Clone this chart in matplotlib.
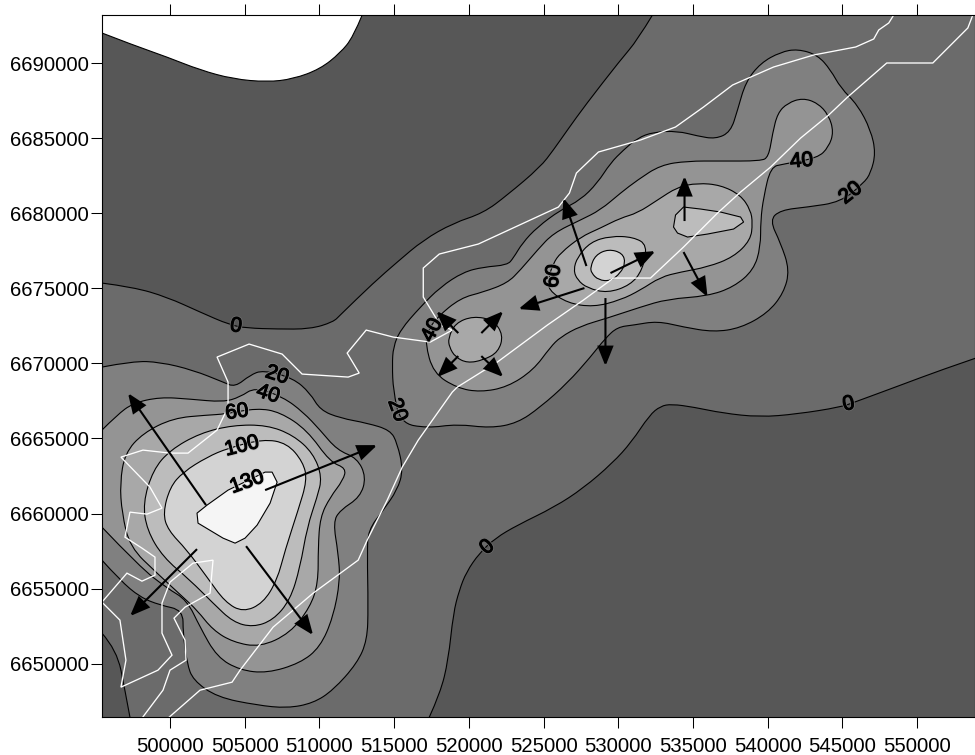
import matplotlib
matplotlib.use("Agg")
import matplotlib.pyplot as plt
from matplotlib.path import Path
from matplotlib.patches import PathPatch
import matplotlib.patheffects as pe

plt.rcParams['font.family'] = ['Liberation Sans', 'DejaVu Sans']

XMIN, XMAX = 495449, 553879
YMIN, YMAX = 6646456, 6693196
xticks = [500000, 505000, 510000, 515000, 520000, 525000, 530000, 535000, 540000, 545000, 550000]
yticks = [6650000, 6655000, 6660000, 6665000, 6670000, 6675000, 6680000, 6685000, 6690000]

# --- level colours
c_below0 = '#575757'
c_0 = '#6b6b6b'
c_20 = '#808080'
c_40 = '#949494'
c_60 = '#a8a8a8'
c_80 = '#bcbcbc'
c_100 = '#d3d3d3'
c_130 = '#f5f5f5'

# --- outside-the-grid hole (top left)
hole_x = [495444,497521,499799,502010,504221,506499,508241,510050,511390,512261,512864]
hole_y = [6691998,6691199,6690400,6689534,6688935,6688735,6688935,6689601,6690666,6691732,6693197]

# --- level 0
c0_nw_x = [495444,497521,499799,502010,504020,505159,507169,509380,510921,511390,513601,515209,516951,518961,520971,522579,524790,525661,526599,527805,530150,531289,532294]
c0_nw_y = [6675348,6675082,6674416,6673417,6672551,6672351,6672285,6672285,6672751,6673217,6675348,6676747,6678212,6679344,6680010,6681209,6683074,6684206,6685538,6687203,6690200,6691532,6693197]
c0_se_x = [517353,518090,518626,518961,519363,519832,520703,521775,523249,525728,527671,529614,530887,532093,532830,533567,535041,536984,539463,541942,544890,545828,548910,551590,553935]
c0_se_y = [6646444,6648042,6650240,6653370,6654902,6656101,6657366,6658365,6659231,6660430,6661695,6663360,6664759,6666557,6667156,6667290,6667090,6666690,6666424,6666624,6667090,6667423,6668555,6669554,6670353]
c0_sw_x = [495444,496449,496985,497320]
c0_sw_y = [6652038,6650906,6648242,6646444]

# --- level 20
c20_ne_x = [514941,515410,516750,518090,519631,520971,522579,522981,523584,524589,526130,527470,528609,529480,530351,531289,532361,533969,535309,536515,537520,537989,538525,539530,540870,542009,543349,544220,544890,546029,546900,547235,546900,546431,544890,542679,540870,540133,540870,541473,541071,539999,538190,536381,534371,532629,531021,529949,529145,528140,526599,524790,523249,521440,519229,517219,515410,514941,514874]
c20_ne_y = [6671086,6672218,6673750,6675082,6676081,6676414,6676547,6677013,6678012,6679078,6680210,6680876,6682008,6683340,6684206,6685005,6685405,6685471,6685138,6684939,6685405,6686870,6688735,6690000,6690733,6690933,6690533,6689534,6688335,6687203,6685538,6684006,6682674,6682008,6680743,6680410,6680210,6679544,6678012,6676214,6674682,6673350,6672351,6672085,6672418,6672817,6672551,6672418,6671685,6670420,6668688,6667090,6666024,6665691,6665958,6665691,6666024,6668222,6669887]
c20_sw_x = [495444,497521,499330,501541,503551,504355,505360,506231,508241,509380,510050,511390,513199,514740,515209,515611,515209,514271,513266,513199,513266,513199,512529,510921,509581,507839,505829,503149,501541,501139,500871,500871,499330,497990,496650,495444]
c20_sw_y = [6669754,6670153,6670087,6669554,6668755,6668422,6669221,6669554,6669021,6668022,6666890,6666357,6666024,6665558,6664692,6662894,6661562,6660230,6658898,6657366,6653770,6651572,6650040,6648242,6647376,6647043,6647243,6647776,6648908,6650040,6652038,6653570,6653903,6654436,6655568,6656900]

# --- level 40
c40_ne_x = [517889,519430,520971,522579,523450,524589,525661,527470,528810,530150,531289,532830,534639,536850,539530,540066,540334,540669,541339,542344,543349,544086,544421,544086,543349,541071,540200,539731,539530,539530,539061,537721,535979,533299,531490,529279,527470,526130,525460,524321,522579,520770,519229,517621,517085,517286]
c40_ne_y = [6673084,6674349,6674749,6675348,6676214,6677546,6678678,6679544,6680210,6681342,6682208,6683207,6683473,6683473,6683473,6683740,6685338,6686670,6687336,6687669,6687336,6686537,6685405,6684406,6683673,6683274,6683074,6681076,6679544,6677746,6676214,6675082,6674482,6674283,6673750,6673017,6672484,6671752,6671086,6669554,6668422,6668089,6668355,6669354,6671352,6672218]
c40_sw_x = [495444,496449,497521,499330,501340,503551,504690,505695,507571,508911,510050,511189,512529,513132,512730,511390,510921,511256,511390,510921,510050,508710,506499,504690,503149,502010,501139,499799,497990,495444]
c40_sw_y = [6665558,6666557,6667356,6667756,6667623,6667423,6667756,6668422,6667756,6666757,6665558,6664226,6663693,6662428,6661096,6660230,6659431,6657366,6655568,6653104,6651106,6650040,6649374,6649574,6650440,6652438,6654236,6655035,6656434,6659098]

# --- level 60
c60_ne_x = [525326,525326,525661,526130,527470,528810,530150,531289,532629,533969,535309,536850,538190,538860,538994,538860,537721,535979,534170,532830,531490,530150,528341,526599]
c60_ne_y = [6674882,6675681,6676680,6677346,6678412,6679011,6679677,6680010,6680876,6681742,6682008,6681875,6681209,6680210,6679344,6678212,6677080,6676414,6676081,6675748,6674882,6674216,6673750,6674016]
c60_mid_x = [518626,519095,520301,521641,522311,521976,520971,519899,519095,518693]
c60_mid_y = [6671685,6672684,6673150,6672884,6671885,6670753,6670220,6670020,6670420,6671086]
c60_sw_x = [496650,496985,498191,500201,502479,503685,505829,507370,509179,510720,511792,511591,510720,510050,509916,509916,509380,508040,506030,504221,502881,501809,500871,499129,497320,496784]
c60_sw_y = [6662028,6664026,6665358,6666357,6666557,6666624,6667023,6666757,6665558,6663427,6663027,6662228,6661096,6659764,6657766,6655368,6653770,6652038,6651106,6651439,6652238,6653570,6654436,6656034,6657766,6660030]

# --- level 80
c80_ctr_x = [527001,527269,528140,529480,531021,531959,531624,530820,529279,527939,527269]
c80_ctr_y = [6676214,6677080,6678079,6678478,6678412,6677879,6676214,6675215,6674682,6675015,6675548]
c80_ne_x = [533701,533835,534371,535510,536850,538190,538391,537721,535979,534639,533969]
c80_ne_y = [6679078,6679877,6680410,6680277,6680077,6679744,6679411,6678945,6678612,6678412,6678678]
c80_sw_x = [498191,498861,500000,502010,504221,506499,508241,509581,510184,509849,509179,508710,508040,506901,505561,504221,502881,501340,499531,498459]
c80_sw_y = [6660696,6662894,6664226,6665358,6665891,6665891,6665225,6664026,6662428,6661096,6659098,6656434,6654236,6652904,6652438,6652771,6654036,6655568,6657100,6658898]

# --- level 100
c100_ctr_x = [528140,528475,529346,530284,530485,530150,529480,528676,528207]
c100_ctr_y = [6676414,6677213,6677613,6677346,6676680,6676014,6675481,6675548,6676014]
c100_sw_x = [499531,500000,500871,502479,503886,506231,507839,508911,509179,508576,507705,507169,506231,504891,503685,502479,501139,499866]
c100_sw_y = [6660030,6661762,6662761,6663760,6664359,6664959,6664692,6663427,6662228,6660230,6657566,6655568,6654036,6653437,6654103,6655768,6657566,6658898]

# --- level 130
c130_x = [501809,502479,503886,506365,506834,507169,506700,505829,505025,504355,503551,501876]
c130_y = [6660030,6660563,6661562,6662761,6662761,6662095,6660696,6659231,6658365,6658032,6658365,6659364]

# --- white outlines
coast_x = [499866,502010,504154,504690,506901,509581,512596,513199,514539,515544,516616,518894,519229,521909,525259,527671,529681,532160,534371,536649,538190,540200,542210,544086,545359,547972,551054,553399,553734]
coast_y = [6646377,6648242,6648775,6649574,6652438,6654702,6656900,6658232,6660896,6663094,6664892,6668089,6668422,6670087,6672551,6674216,6675681,6675681,6677746,6680010,6681409,6683074,6685005,6686537,6687736,6690000,6690000,6692331,6693197]
border_x = [498124,499531,500000,501072,501005,500268,501005,502680,502881,501541,500000,499464,499464,500134,499196,496717,497052,496650,495444,497119,498124,498995,498995,498124,496985,497320,498459,499464,498660,496717,498191,500000,501206,503149,503886,503886,503149,505293,507504,508844,511926,512663,511859,513132,514941,517420,518894,518090,516951,516951,518023,520636,525996,526733,527202,528676,531490,533835,535711,537654,540401,543081,545895,547101,547436,548106,548441]
border_y = [6646377,6648242,6649574,6650240,6651572,6653037,6653770,6654702,6656900,6656700,6655435,6654036,6652038,6650573,6649574,6648442,6650240,6652904,6654103,6656034,6655501,6655901,6657100,6657699,6658432,6660097,6659964,6660363,6661762,6663760,6664226,6664026,6664026,6665558,6667090,6668755,6670420,6671286,6670620,6669288,6669088,6669354,6670686,6672218,6671752,6671419,6672218,6672551,6674416,6676347,6677280,6677946,6680410,6681342,6682674,6684073,6684872,6685738,6687070,6688535,6689734,6690533,6691066,6691599,6692198,6692664,6693197]

# --- arrows: tail and tip
arrow_x0 = [502412,506365,501809,505092,519296,520837,519296,520837,527738,529145,527872,529480,534438,534371]
arrow_y0 = [6660563,6661562,6657633,6657832,6672018,6672018,6670486,6670486,6675015,6674349,6676480,6676014,6679477,6677413]
arrow_x1 = [497186,513869,497320,509581,517822,522311,517889,522311,523316,529145,526331,532495,534438,535979]
arrow_y1 = [6668022,6664559,6653170,6651905,6673483,6673483,6669088,6669088,6673617,6669820,6681009,6677479,6682474,6674416]

# --- contour labels
lab_text = ['0','0','0','20','20','40','60','100','130','40','60','40','20']
lab_x = [504422,521239,545426,515209,507169,506566,504489,504824,505159,517554,525661,542277,545560]
lab_y = [6672484,6657766,6667290,6666890,6669221,6667956,6666757,6664492,6662095,6672218,6675814,6683473,6681342]
lab_rot = [-8,42,12,-70,-18,-18,8,14,20,62,82,5,38]
lab_bg = [c_0,c_0,c_0,c_20,c_20,c_40,c_60,c_80,c_100,c_20,c_40,c_20,c_0]


def smooth_path(x, y, closed=True, corners=()):
    pts = list(zip(x, y))
    if closed:
        mid0 = ((pts[-1][0]+pts[0][0])/2, (pts[-1][1]+pts[0][1])/2)
        verts, codes = [mid0], [Path.MOVETO]
        for i, p in enumerate(pts):
            q = pts[(i+1) % len(pts)]
            verts += [p, ((p[0]+q[0])/2, (p[1]+q[1])/2)]
            codes += [Path.CURVE3, Path.CURVE3]
        return Path(verts, codes)
    verts, codes = [pts[0]], [Path.MOVETO]
    for i in range(1, len(pts)-1):
        p, q = pts[i], pts[i+1]
        end = q if i == len(pts)-2 else ((p[0]+q[0])/2, (p[1]+q[1])/2)
        verts += [p, end]
        codes += [Path.CURVE3, Path.CURVE3]
    for c in corners:
        verts.append(c)
        codes.append(Path.LINETO)
    return Path(verts, codes)


def straight_path(x, y):
    pts = list(zip(x, y))
    return Path(pts + [pts[0]], [Path.MOVETO] + [Path.LINETO]*(len(pts)-1) + [Path.CLOSEPOLY])


fig = plt.figure(figsize=(9.75, 7.55), dpi=100)
ax = fig.add_axes([102/975, 1-717/755, (975-102)/975, (717-15)/755])
ax.set_xlim(XMIN, XMAX)
ax.set_ylim(YMIN, YMAX)
ax.set_facecolor('white')

LW = 0.8


def fill(path, colour, z):
    ax.add_patch(PathPatch(path, facecolor=colour, edgecolor='none', lw=0, zorder=z))


def line(path, z):
    ax.add_patch(PathPatch(path, facecolor='none', edgecolor='black', lw=LW, zorder=z))


# base layer between levels 0 and 20
ax.add_patch(plt.Rectangle((XMIN, YMIN), XMAX-XMIN, YMAX-YMIN, facecolor=c_0, edgecolor='none', zorder=0.5))

fill(smooth_path(c0_nw_x, c0_nw_y, False, [(XMIN, YMAX), (XMIN, c0_nw_y[0])]), c_below0, 1)
line(smooth_path(c0_nw_x, c0_nw_y, False), 1.1)
fill(smooth_path(c0_se_x, c0_se_y, False, [(XMAX+100, YMIN-100)]), c_below0, 1)
line(smooth_path(c0_se_x, c0_se_y, False), 1.1)
fill(smooth_path(c0_sw_x, c0_sw_y, False, [(XMIN-100, YMIN-100)]), c_below0, 1)
line(smooth_path(c0_sw_x, c0_sw_y, False), 1.1)
fill(smooth_path(hole_x, hole_y, False, [(XMIN-100, YMAX+100)]), 'white', 1.2)
line(smooth_path(hole_x, hole_y, False), 1.3)

layers = [
    (c20_ne_x, c20_ne_y, c_20, True, True, 2),
    (c20_sw_x, c20_sw_y, c_20, False, True, 2),
    (c40_ne_x, c40_ne_y, c_40, True, True, 3),
    (c40_sw_x, c40_sw_y, c_40, False, True, 3),
    (c60_ne_x, c60_ne_y, c_60, True, True, 4),
    (c60_mid_x, c60_mid_y, c_60, True, True, 4),
    (c60_sw_x, c60_sw_y, c_60, True, True, 4),
    (c80_ctr_x, c80_ctr_y, c_80, True, True, 5),
    (c80_ne_x, c80_ne_y, c_80, True, False, 5),
    (c80_sw_x, c80_sw_y, c_80, True, True, 5),
    (c100_ctr_x, c100_ctr_y, c_100, True, True, 6),
    (c100_sw_x, c100_sw_y, c_100, True, True, 6),
    (c130_x, c130_y, c_130, True, False, 7),
]
for x, y, colour, closed, smooth, z in layers:
    if smooth:
        p = smooth_path(x, y, closed)
        pf = smooth_path(x, y, closed, [] if closed else [(x[0]-100, y[-1]), (x[0]-100, y[0])])
    else:
        p = pf = straight_path(x, y)
    fill(pf, colour, z)
    line(p, z+0.1)

ax.plot(coast_x, coast_y, color='white', lw=0.95, zorder=8, solid_joinstyle='miter')
ax.plot(border_x, border_y, color='white', lw=0.95, zorder=8, solid_joinstyle='miter')

for x0, y0, x1, y1 in zip(arrow_x0, arrow_y0, arrow_x1, arrow_y1):
    ax.annotate('', xy=(x1, y1), xytext=(x0, y0), zorder=9,
                arrowprops=dict(arrowstyle='-|>,head_length=1.0,head_width=0.4',
                                mutation_scale=12, color='black', lw=1.5,
                                joinstyle='miter', capstyle='butt',
                                shrinkA=0, shrinkB=0))

for t, x, y, r, bg in zip(lab_text, lab_x, lab_y, lab_rot, lab_bg):
    ax.text(x, y, t, rotation=r, rotation_mode='anchor', ha='center', va='center',
            fontsize=15, color='black', zorder=10,
            path_effects=[pe.Stroke(linewidth=2.0, foreground=bg),
                          pe.Stroke(linewidth=0.8, foreground='black'), pe.Normal()])

ax.set_xticks(xticks)
ax.set_yticks(yticks)
ax.set_xticklabels([str(v) for v in xticks])
ax.set_yticklabels([str(v) for v in yticks])
ax.tick_params(axis='both', which='major', length=8, width=0.75, labelsize=14.6, color='black')
ax.tick_params(axis='x', top=True, bottom=True, pad=6.3)
ax.tick_params(axis='y', left=True, right=False, pad=1.5)
for s in ax.spines.values():
    s.set_linewidth(0.8)
    s.set_zorder(20)

fig.savefig('out.png', dpi=100)
